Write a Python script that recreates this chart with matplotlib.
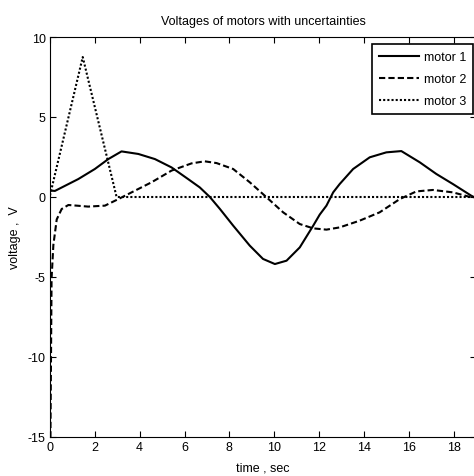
import matplotlib.pyplot as plt
import numpy as np

plt.rcParams['font.family'] = ['Liberation Sans', 'DejaVu Sans']
plt.rcParams['axes.unicode_minus'] = False

# Values (time in sec, voltage in V)
t1 = [0, 0.22, 0.67, 1.26, 2.0, 2.6, 3.19, 3.94, 4.68, 5.42, 6.16, 6.68, 7.13, 7.58, 8.17, 8.91,
      9.5, 10.03, 10.55, 11.14, 11.74, 12.03, 12.33, 12.63, 12.92, 13.52, 14.26, 15.0, 15.67,
      16.49, 17.23, 17.97, 18.79, 18.9]
v1 = [0.4, 0.38, 0.7, 1.12, 1.75, 2.37, 2.85, 2.69, 2.37, 1.85, 1.12, 0.6, 0.0, -0.75, -1.79, -3.04,
      -3.87, -4.19, -3.98, -3.15, -1.79, -1.1, -0.54, 0.29, 0.81, 1.75, 2.48, 2.79, 2.87,
      2.17, 1.44, 0.81, 0.08, 0.0]

t2 = [0, 0.02, 0.07, 0.15, 0.3, 0.52, 0.82, 1.19, 1.7, 2.45, 3.05, 3.64, 4.53, 5.42, 6.31, 6.9,
      7.43, 8.17, 8.91, 9.66, 10.4, 11.14, 11.74, 12.33, 12.92, 13.81, 14.7, 15.6, 16.34, 17.08,
      17.97, 18.79, 18.9]
v2 = [-15, -15, -5.1, -3.0, -1.4, -0.75, -0.5, -0.54, -0.6, -0.54, -0.13, 0.29, 0.92, 1.65, 2.1, 2.23,
      2.12, 1.75, 0.92, -0.02, -0.96, -1.69, -1.96, -2.04, -1.9, -1.48, -0.96, -0.13, 0.35, 0.44,
      0.29, -0.02, -0.03]

t3 = [0, 1.46, 2.97, 18.9]
v3 = [0.1, 8.75, 0, 0]

fig = plt.figure(figsize=(4.74, 4.77), dpi=100)
ax = fig.add_axes([50 / 474, 39 / 477, 426 / 474, 400 / 477])

ax.plot(t1, v1, 'k-', lw=1.5, label='motor 1')
ax.plot(t2, v2, 'k--', lw=1.5, dashes=(3, 1.5), label='motor 2')
ax.plot(t3, v3, 'k:', lw=1.5, dashes=(1, 1), label='motor 3')

ax.set_xlim(0, 19)
ax.set_ylim(-15, 10)
ax.set_xticks(np.arange(0, 19, 2))
ax.set_yticks([-15, -10, -5, 0, 5, 10])
ax.tick_params(direction='in', top=True, right=True, labelsize=9, length=4, width=0.8, pad=3)

ax.set_title('Voltages of motors with uncertainties', fontsize=9, pad=9)
ax.set_xlabel('time , sec', fontsize=9, labelpad=6)
ax.set_ylabel('voltage ,  V', fontsize=9, labelpad=5)

# legend box placed where it sits in the picture
leg = ax.legend(loc='upper right', bbox_to_anchor=(473 / 474, 1 - 45 / 477),
                bbox_transform=fig.transFigure, borderaxespad=0,
                fontsize=9, handlelength=3.2, handletextpad=0.4, fancybox=False,
                edgecolor='k', framealpha=1, borderpad=0.55, labelspacing=0.8)
leg.get_frame().set_linewidth(1.2)

fig.savefig('out.png', dpi=100)
